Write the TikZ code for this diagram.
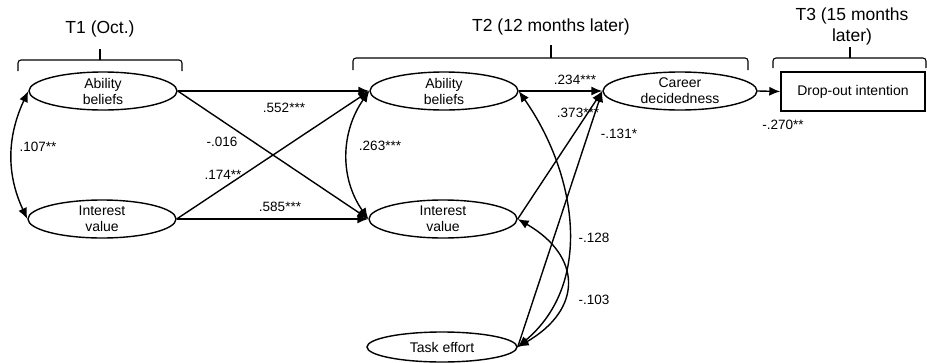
\documentclass[tikz,border=0pt]{standalone}
\usepackage{fontspec}
\setmainfont{Liberation Sans}
\usetikzlibrary{shapes.geometric,arrows.meta}
\begin{document}
\begin{tikzpicture}[x=1pt,y=1pt,line width=1.4pt,>={Latex[length=11pt,width=9pt]},
  font=\fontsize{14}{16}\selectfont,
  latent/.style={ellipse,draw,inner sep=0pt,minimum width=148pt,minimum height=38pt,align=center},
  coef/.style={font=\fontsize{13.5}{15}\selectfont,inner sep=0pt},
  wave/.style={font=\fontsize{17.5}{21}\selectfont,align=center,inner sep=0pt}]
\useasboundingbox (0,0) rectangle (927,-362);
% waves
\node[wave] (t1) at (100,-29) {T1 (Oct.)};
\node[wave] (t2) at (551,-27) {T2 (12 months later)};
\node[wave] (t3) at (852,-26) {T3 (15 months\\later)};
\draw[line width=1.1pt,rounded corners=3pt] (18,-71) |- (100,-60) -| (182,-71);
\draw[line width=1.1pt] (100,-60) -- (100,-49);
\draw[line width=1.1pt,rounded corners=3pt] (353,-70) |- (551,-58) -| (748,-70);
\draw[line width=1.1pt] (551,-58) -- (551,-45);
\draw[line width=1.1pt,rounded corners=3pt] (773,-68) |- (850,-58) -| (926,-68);
\draw[line width=1.1pt] (850,-58) -- (850,-47);
% constructs
\node[latent] (ab1) at (103,-91) {Ability\\beliefs};
\node[latent] (iv1) at (102,-219) {Interest\\value};
\node[latent] (ab2) at (444,-91) {Ability\\beliefs};
\node[latent] (iv2) at (443,-219) {Interest\\value};
\node[latent,minimum width=154pt] (cd) at (680,-91) {Career\\decidedness};
\node[latent,minimum width=150pt,minimum height=30pt] (te) at (442,-347) {Task effort};
\node[draw,minimum width=144pt,minimum height=39pt,inner sep=0pt] (do) at (853,-91.5) {Drop-out intention};
% paths
\draw[->] (ab1.east) -- (ab2.west);
\draw[->] (ab1.east) -- (iv2.west);
\draw[->] (iv1.east) -- (ab2.west);
\draw[->] (iv1.east) -- (iv2.west);
\draw[<->] (ab1.west) to[out=245,in=115] (iv1.west);
\draw[<->] (ab2.west) to[out=235,in=125] (iv2.west);
\draw[->] (ab2.east) -- (cd.west);
\draw[->] (iv2.east) -- (cd.west);
\draw[->] (te.east) -- (cd.west);
\draw[<->] (ab2.east) to[out=-55,in=40] (te.east);
\draw[<->] (iv2.east) to[out=-30,in=30,looseness=1.5] (te.east);
\draw[->] (cd.east) -- (do.west);
% coefficients
\node[coef] (c1) at (38,-147) {.107**};
\node[coef] (c2) at (284,-108) {.552***};
\node[coef] (c3) at (222,-142) {-.016};
\node[coef] (c4) at (223,-175) {.174**};
\node[coef] (c5) at (280,-207) {.585***};
\node[coef] (c6) at (380,-146) {.263***};
\node[coef] (c7) at (575,-80) {.234***};
\node[coef] (c8) at (578,-113) {.373***};
\node[coef] (c9) at (619,-134) {-.131*};
\node[coef] (c10) at (594,-238) {-.128};
\node[coef] (c11) at (594,-300) {-.103};
\node[coef] (c12) at (783,-125) {-.270**};
\end{tikzpicture}
\end{document}
